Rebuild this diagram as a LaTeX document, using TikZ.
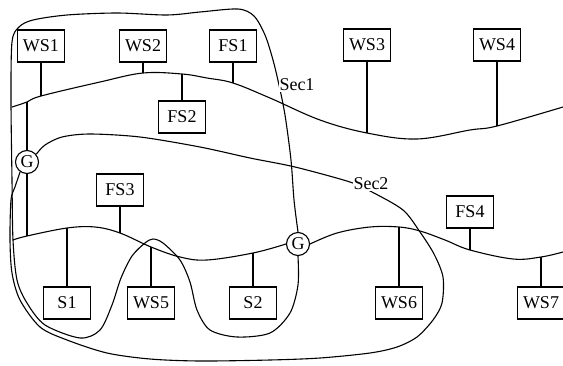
\documentclass[tikz,border=0pt]{standalone}
\usepackage{fontspec}
\setmainfont{Liberation Serif}
\usepackage{tikz}
\usetikzlibrary{positioning}
\tikzset{
x=1pt, y=-1pt, % one unit is one pixel of the reference, y runs down
every path/.style={line width=1.1pt}, % all lines about 1.5px wide
station/.style={draw, fill=white, minimum width=47pt, minimum height=32pt, inner sep=0pt, font=\fontsize{18}{20}\selectfont}, % boxes WS, FS, S
gateway/.style={draw, circle, fill=white, minimum size=23pt, inner sep=0pt, font=\fontsize{18}{20}\selectfont}, % the G circles
seclabel/.style={fill=white, inner sep=0.5pt, font=\fontsize{18}{20}\selectfont}, % Sec1, Sec2
bus/.style={smooth, tension=0.6}, % wavy bus lines
}

\begin{document}
\begin{tikzpicture}
                \useasboundingbox (0,0) rectangle (563,365);
                % stations on the upper bus
                \node[station] (ws1) at (41,46) {WS1};
                \node[station] (ws2) at (143,46) {WS2};
                \node[station] (fs1) at (233,46) {FS1};
                \node[station] (fs2) at (182,117) {FS2};
                \node[station] (ws3) at (367,45) {WS3};
                \node[station] (ws4) at (497,45) {WS4};
                % stations on the lower bus
                \node[station] (fs3) at (120,190) {FS3};
                \node[station] (s1) at (67,303) {S1};
                \node[station] (ws5) at (151,303) {WS5};
                \node[station] (s2) at (253,303) {S2};
                \node[station] (ws6) at (399,303) {WS6};
                \node[station] (fs4) at (470,212) {FS4};
                \node[station] (ws7) at (541,303) {WS7};
                % gateways
                \node[gateway] (g1) at (27,162) {G};
                \node[gateway] (g2) at (298,244) {G};
                % taps on the upper bus
                \coordinate (b1l) at (12,107);
                \coordinate (b1g1) at (27,102);
                \coordinate (b1ws1) at (41,96);
                \coordinate (b1ws2) at (143,73);
                \coordinate (b1fs2) at (182,74);
                \coordinate (b1fs1) at (233,83);
                \coordinate (b1ws3) at (367,133);
                \coordinate (b1ws4) at (497,126);
                \coordinate (b1r) at (563,107);
                % taps on the lower bus
                \coordinate (b2l) at (13,240);
                \coordinate (b2g1) at (27,236);
                \coordinate (b2s1) at (67,228);
                \coordinate (b2fs3) at (120,233);
                \coordinate (b2ws5) at (151,247);
                \coordinate (b2s2) at (253,253);
                \coordinate (b2ws6) at (399,227);
                \coordinate (b2fs4) at (470,250);
                \coordinate (b2ws7) at (541,257);
                \coordinate (b2r) at (563,252);
                % buses
                \draw plot[bus] coordinates {(b1l) (b1g1) (b1ws1) (100,82) (b1ws2) (b1fs2) (207,78) (b1fs1) (270,98) (320,120) (b1ws3) (417,139) (470,130) (b1ws4) (b1r)};
                \draw plot[bus] coordinates {(b2l) (b2g1) (b2s1) (95,227) (b2fs3) (b2ws5) (180,257) (207,260) (b2s2) (g2.west)};
                \draw plot[bus] coordinates {(g2.east) (337,233) (370,227) (b2ws6) (420,231) (445,240) (b2fs4) (513,259) (b2ws7) (b2r)};
                % drops
                \draw (ws1) -- (b1ws1)
                      (ws2) -- (b1ws2)
                      (fs2) -- (b1fs2)
                      (fs1) -- (b1fs1)
                      (ws3) -- (b1ws3)
                      (ws4) -- (b1ws4)
                      (fs3) -- (b2fs3)
                      (s1) -- (b2s1)
                      (ws5) -- (b2ws5)
                      (s2) -- (b2s2)
                      (ws6) -- (b2ws6)
                      (fs4) -- (b2fs4)
                      (ws7) -- (b2ws7)
                      (b1g1) -- (g1)
                      (g1) -- (b2g1);
                % section Sec1
                \draw plot[smooth] coordinates {(g2.north) (294,200) (291,160) (285,115) (279,85) (273,60) (265,35) (254,16) (238,9) (200,12) (167,15) (117,13) (67,15) (33,20) (19,27) (12,42) (11,100) (12,180) (13,240) (17,280) (27,303) (45,325) (80,338) (100,330) (112,305) (121,278) (132,256) (145,243) (153,239) (163,243) (180,260) (190,282) (197,310) (210,330) (237,337) (270,333) (290,313) (298,285) (g2.south)};
                % section Sec2
                \draw plot[smooth] coordinates {(g1.40) (45,145) (62,137) (90,134) (140,137) (200,147) (250,158) (295,167) (350,182) (372,192) (403,210) (420,232) (434,254) (443,277) (442,303) (433,320) (417,337) (397,347) (370,353) (320,358) (270,360) (200,361) (150,359) (107,353) (67,340) (40,327) (20,300) (12,273) (10,240) (11,200) (15,187) (g1.235)};
                \node[seclabel] (sec1) at (297,85) {Sec1};
                \node[seclabel] (sec2) at (371,184) {Sec2};
\end{tikzpicture}
\end{document}
